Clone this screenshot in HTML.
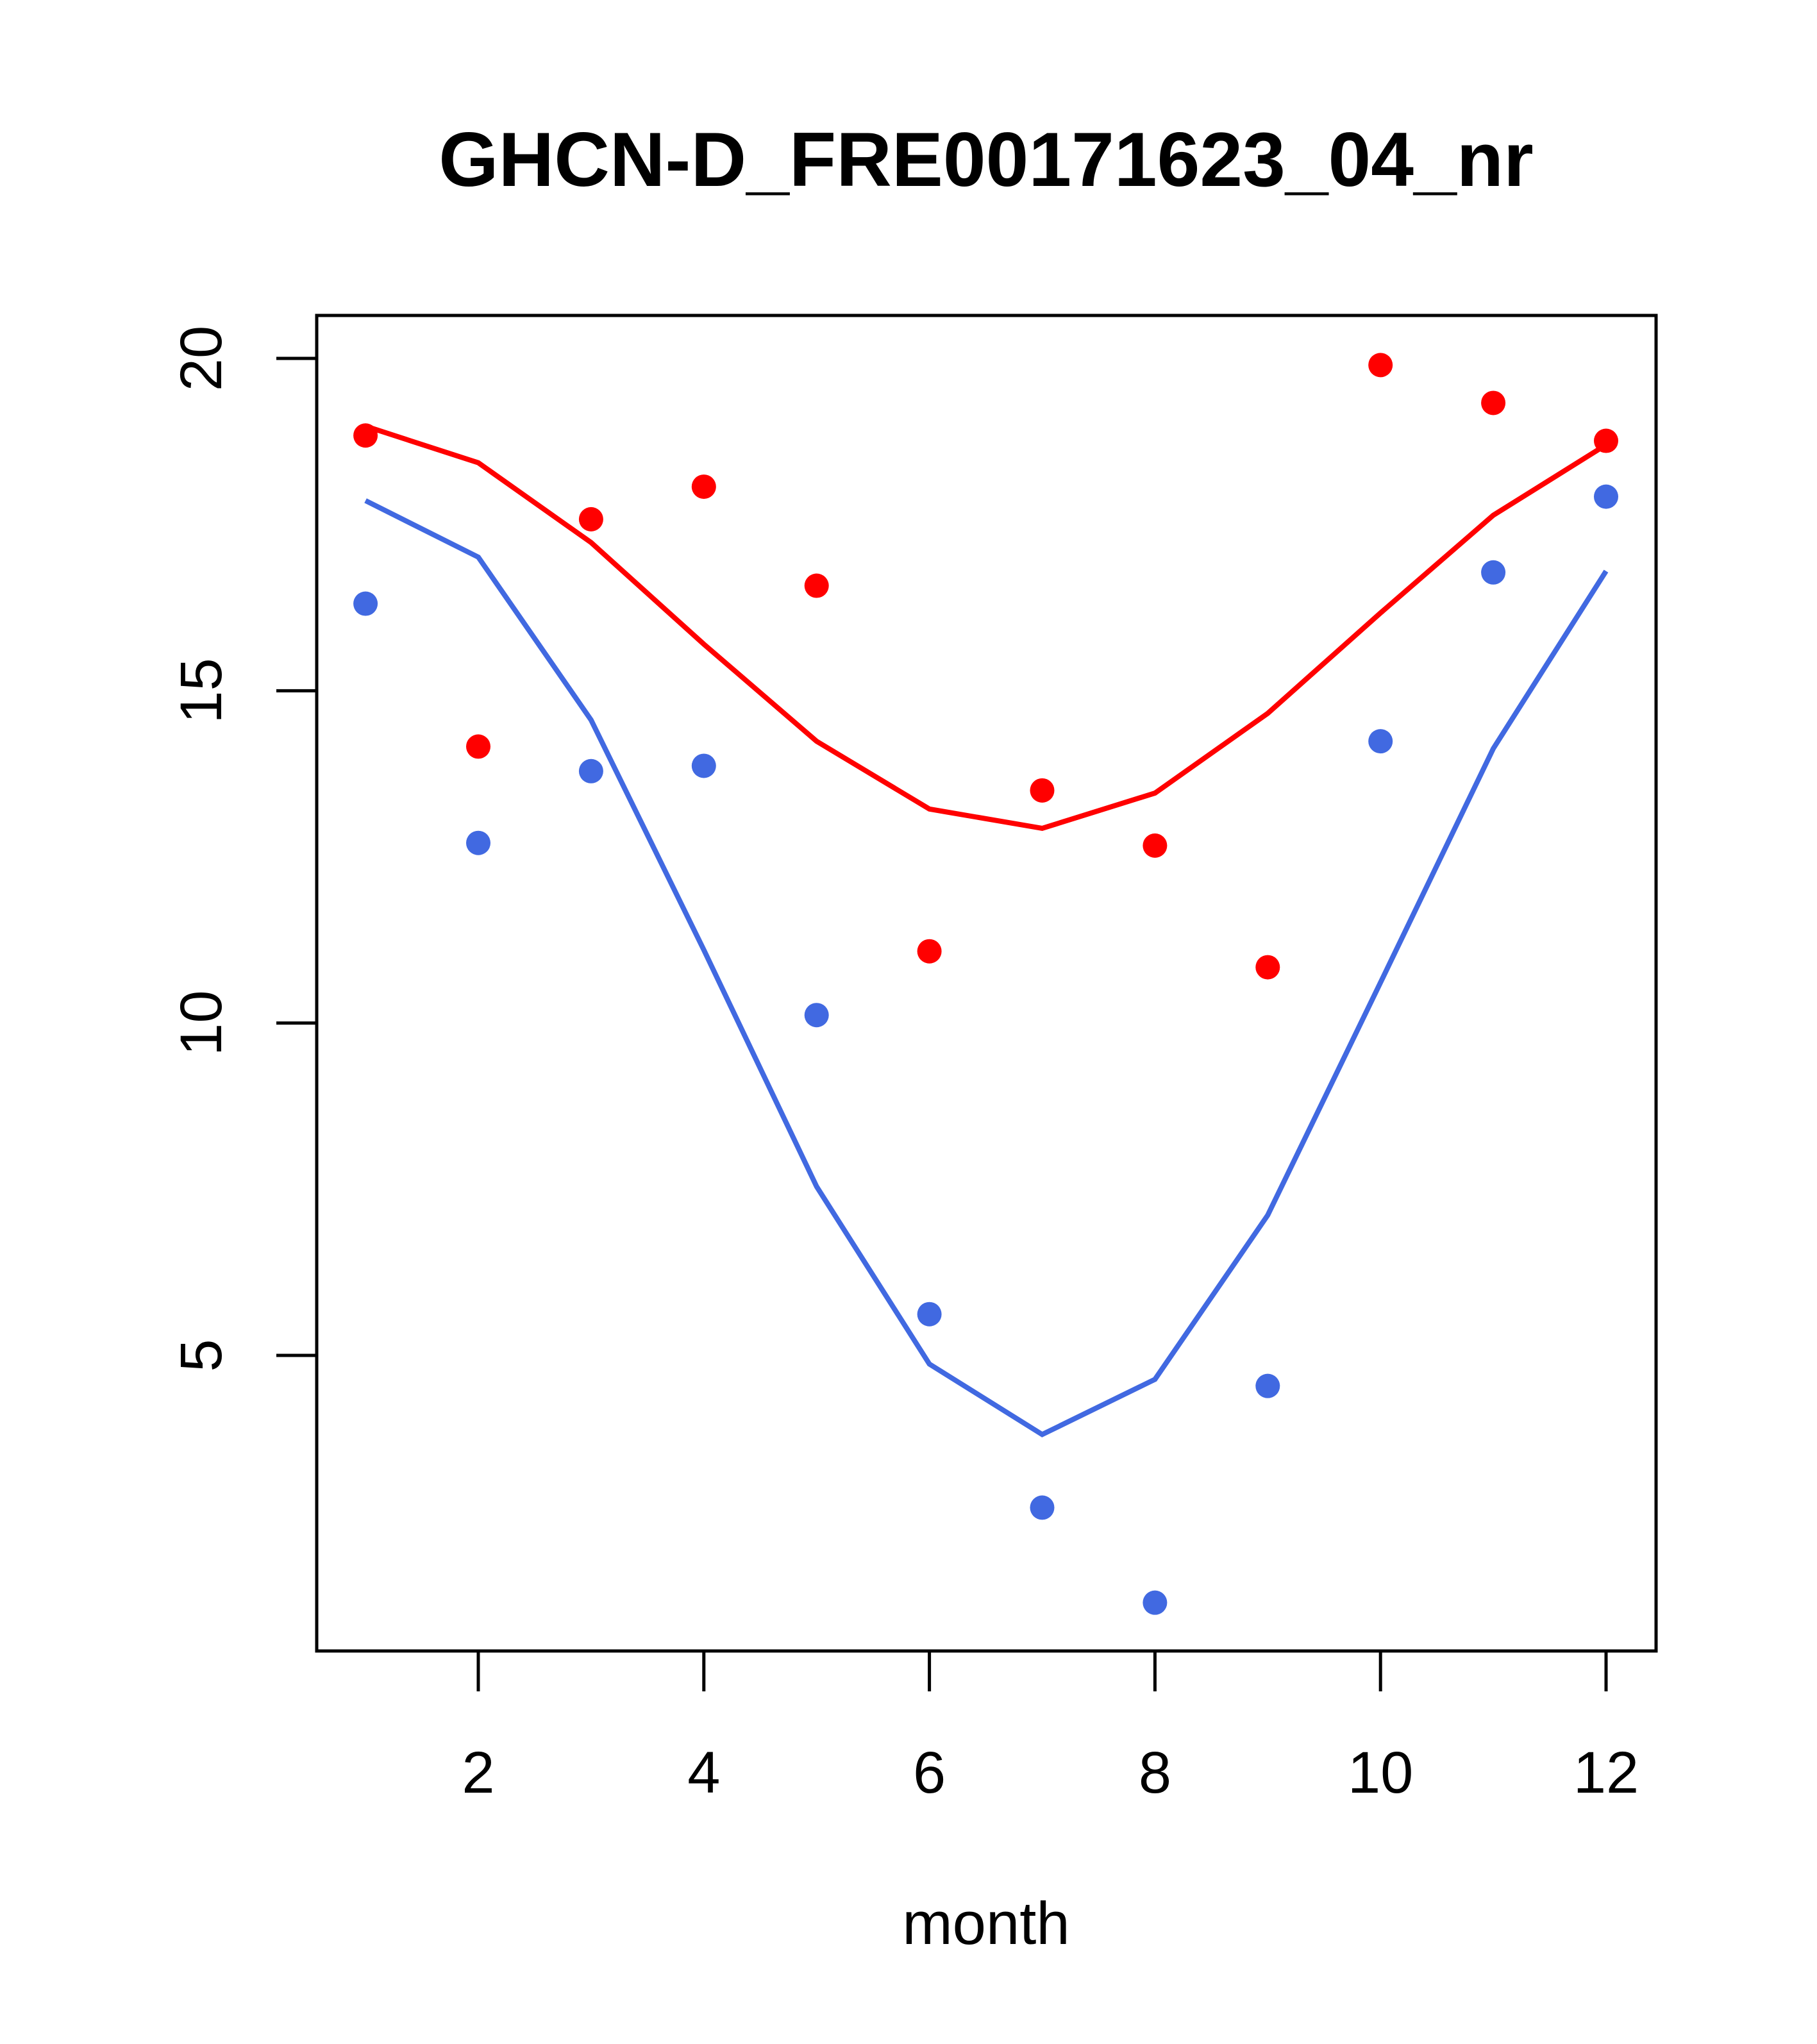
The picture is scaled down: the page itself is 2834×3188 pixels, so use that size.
<!DOCTYPE html>
<html><head><meta charset="utf-8"><style>html,body{margin:0;padding:0;background:#fff}svg{display:block}</style></head>
<body>
<svg id="chart" width="2834" height="3188" xmlns="http://www.w3.org/2000/svg" font-family="Liberation Sans, Arial, sans-serif">
<rect width="2834" height="3188" fill="#fff"/>
<text x="1538" y="290" text-anchor="middle" font-size="120" font-weight="bold">GHCN-D_FRE00171623_04_nr</text>
<text x="1538" y="3032" text-anchor="middle" font-size="94">month</text>
<rect x="494" y="492" width="2089" height="2083" fill="none" stroke="#000" stroke-width="5"/>
<g id="axes"></g>
<g id="marks"></g>
</svg>
<script>
const months=[1,2,3,4,5,6,7,8,9,10,11,12];
const redPoints=[18.84,14.16,17.58,18.07,16.58,11.08,13.50,12.67,10.84,19.90,19.33,18.76];
const redLine=[18.98,18.43,17.23,15.70,14.24,13.22,12.93,13.46,14.66,16.17,17.64,18.70];
const bluePoints=[16.31,12.71,13.79,13.87,10.12,5.62,2.71,1.28,4.54,14.24,16.78,17.92];
const blueLine=[17.86,17.01,14.56,11.10,7.54,4.87,3.81,4.64,7.11,10.61,14.13,16.80];
const xTicks=[2,4,6,8,10,12];
const yTicks=[5,10,15,20];
const NS="http://www.w3.org/2000/svg";
function xs(m){return 746+(m-2)*(2505-746)/10;}
function ys(v){return 2114-(v-5)*(2114-559)/15;}
function mk(tag,attrs,parent){const e=document.createElementNS(NS,tag);for(const k in attrs)e.setAttribute(k,attrs[k]);parent.appendChild(e);return e;}
const axes=document.getElementById('axes'),marks=document.getElementById('marks');
xTicks.forEach(t=>{
 const l=mk('line',{x1:xs(t),x2:xs(t),y1:2575,y2:2638,stroke:'#000','stroke-width':5},axes);
 
 
 const tx=mk('text',{x:xs(t),y:2796,'text-anchor':'middle','font-size':92},axes);tx.textContent=t;
 
 
});
yTicks.forEach(t=>{
 const l=mk('line',{x1:431,x2:494,y1:ys(t),y2:ys(t),stroke:'#000','stroke-width':5},axes);
 
 
 const tx=mk('text',{x:345,y:ys(t),'text-anchor':'middle','font-size':92,transform:`rotate(-90 345 ${ys(t)})`},axes);tx.textContent=t;
 
 
});
function drawLine(vals,color,name){
 const p=mk('polyline',{points:months.map((m,i)=>xs(m)+','+ys(vals[i])).join(' '),fill:'none',stroke:color,'stroke-width':8},marks);
 
 
}
function drawPts(vals,color,name){
 months.forEach((m,i)=>{
  const c=mk('circle',{cx:xs(m),cy:ys(vals[i]),r:19,fill:color},marks);
  
  
 });
}
drawLine(redLine,'#ff0000','red-line');
drawLine(blueLine,'#4169e1','blue-line');
drawPts(redPoints,'#ff0000','red-point');
drawPts(bluePoints,'#4169e1','blue-point');
</script>
</body></html>
